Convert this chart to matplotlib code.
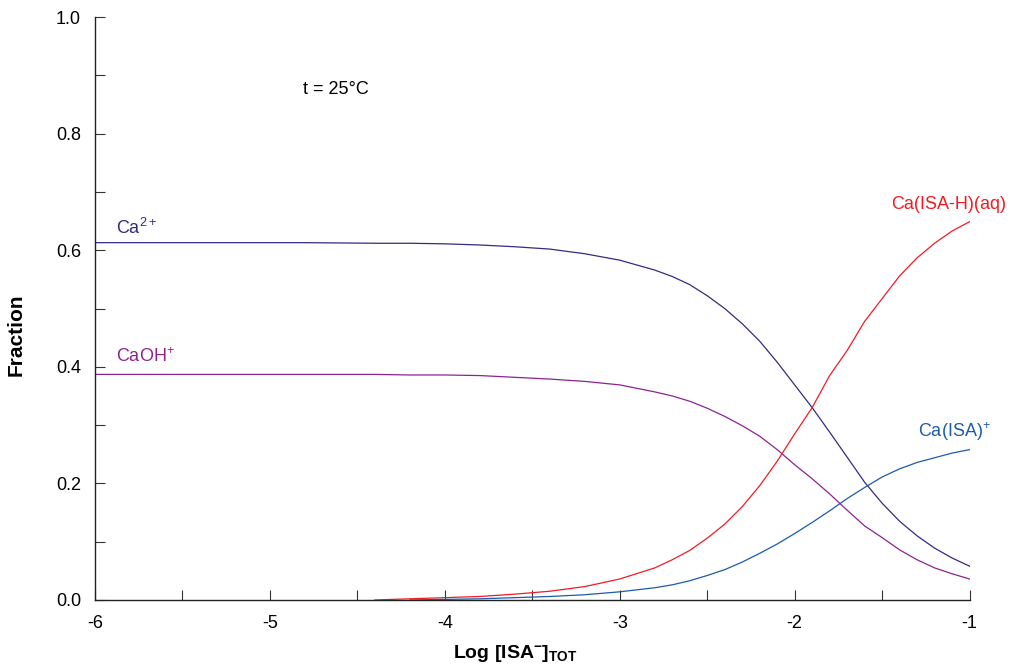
import numpy as np
import matplotlib.pyplot as plt

plt.rcParams['font.family'] = ['Liberation Sans', 'DejaVu Sans']
plt.rcParams['mathtext.fontset'] = 'custom'
plt.rcParams['mathtext.rm'] = 'Liberation Sans'
plt.rcParams['mathtext.it'] = 'Liberation Sans'
plt.rcParams['mathtext.bf'] = 'Liberation Sans:bold'
plt.rcParams['axes.unicode_minus'] = False

# log [ISA-]tot
log_isa = [-6.0, -5.6, -5.2, -4.8, -4.4, -4.2, -4.0, -3.8, -3.6, -3.4, -3.2, -3.0,
           -2.8, -2.7, -2.6, -2.5, -2.4, -2.3, -2.2, -2.1, -2.0, -1.9, -1.8, -1.7,
           -1.6, -1.5, -1.4, -1.3, -1.2, -1.1, -1.0]

ca = [0.613, 0.613, 0.613, 0.613, 0.612, 0.612, 0.611, 0.609, 0.606, 0.602, 0.594, 0.583,
      0.566, 0.555, 0.541, 0.522, 0.500, 0.474, 0.444, 0.408, 0.369, 0.330, 0.288, 0.245,
      0.202, 0.166, 0.135, 0.110, 0.089, 0.072, 0.058]
caoh = [0.387, 0.387, 0.387, 0.387, 0.387, 0.386, 0.386, 0.385, 0.382, 0.379, 0.375, 0.369,
        0.357, 0.350, 0.341, 0.329, 0.315, 0.299, 0.281, 0.258, 0.232, 0.208, 0.182, 0.154,
        0.127, 0.107, 0.086, 0.069, 0.055, 0.045, 0.036]
ca_isa_h = [np.nan, np.nan, np.nan, np.nan, 0.0, 0.002, 0.004, 0.006, 0.010, 0.015, 0.023, 0.036,
            0.055, 0.069, 0.085, 0.106, 0.130, 0.160, 0.196, 0.238, 0.285, 0.330, 0.385, 0.428,
            0.478, 0.517, 0.556, 0.587, 0.612, 0.633, 0.649]
ca_isa = [np.nan, np.nan, np.nan, np.nan, np.nan, 0.0, 0.001, 0.002, 0.004, 0.006, 0.009, 0.014,
          0.021, 0.026, 0.033, 0.042, 0.052, 0.065, 0.080, 0.096, 0.114, 0.133, 0.153, 0.174,
          0.193, 0.211, 0.225, 0.236, 0.244, 0.252, 0.258]

c_ca = '#332c80'
c_caoh = '#8c2490'
c_red = '#ee1c25'
c_blue = '#1c5ca8'

fig = plt.figure(figsize=(10.1, 6.7), dpi=100)
ax = fig.add_axes([0.094, 0.1045, 0.866, 0.870])

ax.plot(log_isa, ca, color=c_ca, lw=0.9)
ax.plot(log_isa, caoh, color=c_caoh, lw=0.9)
ax.plot(log_isa, ca_isa_h, color=c_red, lw=0.9)
ax.plot(log_isa, ca_isa, color=c_blue, lw=0.9)

ax.text(-5.88, 0.638, 'Ca$^{2+}$', color=c_ca, fontsize=13, va='center', ha='left')
ax.text(-5.88, 0.417, 'CaOH$^{+}$', color=c_caoh, fontsize=13, va='center', ha='left')
ax.text(-0.79, 0.678, 'Ca(ISA-H)(aq)', color=c_red, fontsize=13, va='center', ha='right')
ax.text(-1.297, 0.288, 'Ca(ISA)$^{+}$', color=c_blue, fontsize=13, va='center', ha='left')
ax.text(-4.81, 0.876, 't = 25°C', color='black', fontsize=13, va='center', ha='left')

ax.set_xlim(-6, -1)
ax.set_ylim(0, 1)
ax.set_xticks([-6, -5, -4, -3, -2, -1])
ax.set_xticks([-5.5, -4.5, -3.5, -2.5, -1.5], minor=True)
ax.set_yticks([0.0, 0.2, 0.4, 0.6, 0.8, 1.0])
ax.set_yticks([0.1, 0.3, 0.5, 0.7, 0.9], minor=True)
ax.set_yticklabels(['0.0', '0.2', '0.4', '0.6', '0.8', '1.0'])

for s in ['top', 'right']:
    ax.spines[s].set_visible(False)
for s in ['left', 'bottom']:
    ax.spines[s].set_linewidth(1.0)
    ax.spines[s].set_color('#222222')

ax.tick_params(which='both', direction='in', length=7, width=0.8, color='#333333')
ax.tick_params(axis='x', which='major', pad=11, labelsize=13)
ax.tick_params(axis='y', which='major', pad=10, labelsize=13)

ax.set_xlabel(r'Log [ISA$^{\mathbf{-}}$]$_{\mathbf{TOT}}$', fontsize=14, fontweight='bold')
ax.xaxis.set_label_coords(0.481, -0.074)
ax.set_ylabel('Fraction', fontsize=15, fontweight='bold')
ax.yaxis.set_label_coords(-0.079, 0.455)

fig.savefig('out.png', dpi=100)
